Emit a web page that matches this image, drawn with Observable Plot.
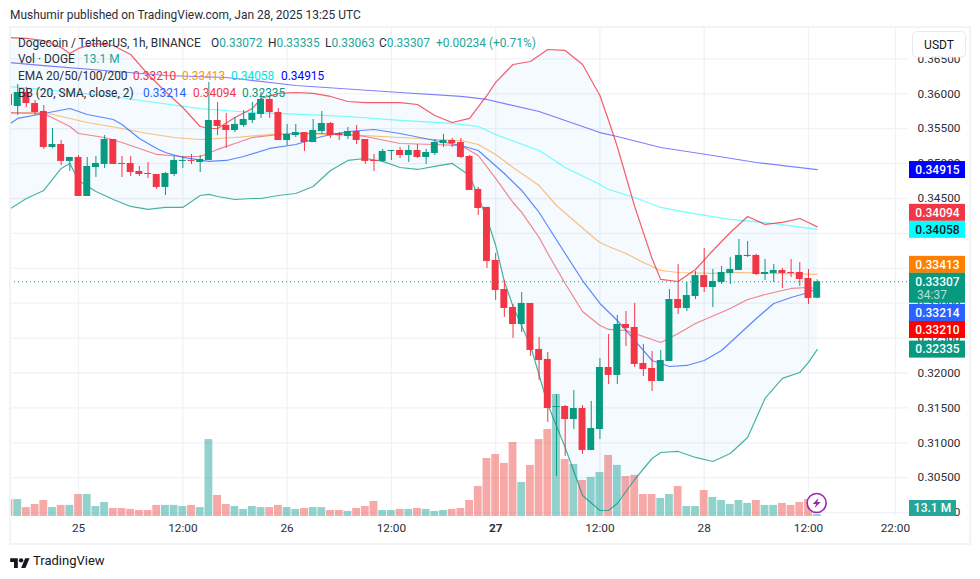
<!DOCTYPE html>
<html><head><meta charset="utf-8">
<script src="https://cdn.jsdelivr.net/npm/d3@7"></script>
<script src="https://cdn.jsdelivr.net/npm/@observablehq/plot@0.6"></script>
<style>
html,body{margin:0;padding:0;background:#fff;width:980px;height:579px;overflow:hidden;font-family:Roboto,sans-serif;color:#131722}
#title{height:26px;box-sizing:border-box;padding:7px 0 0 10px;font-size:11.95px;line-height:16px;white-space:pre;color:#2a2e39}
#wrap{position:relative;width:980px;height:520px}
#wrap svg{position:absolute;left:0;top:0;overflow:visible}
.leg{position:absolute;left:18px;font-size:11.9px;line-height:16px;white-space:pre;color:#2a2e39}
.leg span{position:absolute;top:0}
#foot{position:absolute;left:33px;top:552px;font-size:13px;line-height:18px;color:#131722}
#logo{position:absolute;left:10px;top:556px}
</style></head><body>
<div id="title">Mushumir published on TradingView.com, Jan 28, 2025 13:25 UTC</div>
<div id="wrap">
<div id="chart"></div>
<div class="leg" style="top:9px">Dogecoin / TetherUS, 1h, BINANCE<span style="left:193px">O<b style="font-weight:400;color:#26a69a">0.33072</b></span><span style="left:250px">H<b style="font-weight:400;color:#26a69a">0.33335</b></span><span style="left:307px">L<b style="font-weight:400;color:#26a69a">0.33063</b></span><span style="left:361px">C<b style="font-weight:400;color:#26a69a">0.33307</b></span><span style="left:418px;color:#26a69a">+0.00234 (+0.71%)</span></div>
<div class="leg" style="top:25px">Vol · DOGE<span style="left:65px;color:#26a69a">13.1 M</span></div>
<div class="leg" style="top:42px">EMA 20/50/100/200<span style="left:115px;color:#f23645">0.33210</span><span style="left:164px;color:#ff9800">0.33413</span><span style="left:213px;color:#00e5e5">0.34058</span><span style="left:263px;color:#0000ff">0.34915</span></div>
<div class="leg" style="top:59px">BB (20, SMA, close, 2)<span style="left:125px;color:#2962ff">0.33214</span><span style="left:175px;color:#f23645">0.34094</span><span style="left:224px;color:#089981">0.32335</span></div>
</div>
<svg id="logo" width="20" height="12" viewBox="0 0 36 22"><path fill="#131722" d="M14 22H7V11H0V4h14v18zM28 22h-8l7.5-18h8L28 22z"/><circle fill="#131722" cx="20" cy="8" r="4"/></svg>
<div id="foot">TradingView</div>
<script>
// Candles, one per hour; hour 0 is 25 Jan 00:00
const firstHour = -8;
const open = [.35991,.35818,.36019,.35861,.35747,.35231,.35274,.35031,.35088,.34529,.34944,.34988,.35345,.35002,.35002,.34887,.34858,.34844,.34658,.34844,.35031,.35045,.35016,.35045,.35618,.35546,.35474,.35546,.35618,.35704,.35919,.35732,.35331,.35402,.35445,.35302,.35460,.35575,.35431,.35388,.35460,.35345,.35045,.35031,.35174,.35188,.35116,.35188,.35088,.35145,.35288,.35331,.35302,.35102,.34629,.34372,.33612,.33196,.32939,.32695,.32996,.32337,.32194,.31506,.31520,.31334,.31491,.30890,.31190,.32079,.31965,.32695,.32652,.32136,.32065,.31878,.32165,.33053,.32924,.33096,.33396,.33225,.33297,.33426,.33469,.33669,.33684,.33411,.33426,.33469,.33440,.33440,.33354,.33072];
const high = [.36048,.36134,.36091,.35904,.35832,.35503,.35331,.35088,.35116,.35088,.35102,.35402,.35345,.35102,.35102,.34959,.35016,.34844,.34872,.35102,.35102,.35131,.35116,.36163,.35875,.35718,.35661,.35761,.35875,.36019,.35976,.35789,.35561,.35561,.35445,.35632,.35747,.35589,.35445,.35517,.35546,.35345,.35131,.35203,.35188,.35231,.35259,.35274,.35203,.35345,.35417,.35360,.35360,.35116,.34658,.34372,.33712,.33325,.32982,.33153,.32996,.32509,.32294,.31692,.31534,.31749,.31534,.31592,.32208,.32552,.32824,.32881,.32996,.32409,.32308,.32323,.33196,.33554,.33297,.33455,.33784,.33483,.33526,.33655,.33913,.33884,.33698,.33626,.33554,.33497,.33626,.33583,.33483,.33335];
const low = [.35789,.35689,.35804,.35689,.35203,.35217,.34973,.34887,.34529,.34529,.34801,.34930,.34988,.34801,.34815,.34815,.34787,.34629,.34543,.34815,.34930,.34988,.34872,.35045,.35402,.35217,.35445,.35517,.35575,.35647,.35647,.35331,.35259,.35374,.35174,.35302,.35417,.35360,.35331,.35345,.35274,.34988,.34887,.35016,.35045,.35073,.35016,.35073,.34988,.35116,.35231,.35231,.35073,.34615,.34256,.33497,.33039,.32795,.32495,.32580,.32237,.31893,.31291,.30517,.30804,.31190,.30833,.30890,.31047,.31836,.31836,.32380,.32079,.31950,.31735,.31878,.32165,.32838,.32881,.33053,.33153,.32939,.33268,.33268,.33469,.33655,.33396,.33325,.33297,.33211,.33368,.33239,.32982,.33063];
const close = [.35832,.36019,.35861,.35732,.35231,.35274,.35031,.35088,.34529,.34959,.35002,.35345,.34988,.34988,.34872,.34844,.34844,.34658,.34858,.35045,.35045,.35031,.35059,.35618,.35532,.35474,.35561,.35632,.35718,.35919,.35732,.35331,.35417,.35445,.35302,.35474,.35575,.35402,.35402,.35460,.35331,.35031,.35031,.35174,.35188,.35116,.35188,.35088,.35159,.35302,.35331,.35288,.35088,.34615,.34357,.33598,.33182,.32924,.32695,.32996,.32323,.32179,.31491,.31520,.31334,.31491,.30890,.31205,.32079,.31965,.32695,.32638,.32122,.32050,.31878,.32179,.33053,.32924,.33110,.33396,.33225,.33311,.33440,.33483,.33684,.33684,.33411,.33440,.33469,.33426,.33426,.33340,.33067,.33307];
// Volume in millions
const volume = [110,110,58,78,104,58,72,72,143,143,65,91,52,52,46,39,39,72,72,72,65,72,58,500,137,78,65,46,65,58,58,72,58,46,52,58,58,39,39,33,52,65,98,39,39,46,46,52,46,33,39,46,52,104,195,377,403,345,481,221,332,500,566,793,371,338,234,254,286,397,332,260,267,143,143,117,143,195,65,65,169,124,104,78,104,85,104,72,72,85,72,91,111,13.1];

// Bollinger band
const bandHours = [-8,-6,-4,-2,-1,0,2,4,6,8,10,12,14,15,16,18,20,21,23,25,27,29,31,33,35,37,39,41,43,45,47,48,49,50,52,54,56,58,60,61,62,64,66,67,69,71,73,75,77,79,81,83,84,85];
const bandUpper = [.36807,.36793,.36764,.36664,.36578,.36650,.36721,.36692,.36563,.36277,.36033,.35804,.35532,.35503,.35503,.35661,.35789,.35933,.36005,.36019,.36005,.35962,.35890,.35875,.35875,.35875,.35847,.35689,.35589,.35647,.35976,.36163,.36291,.36420,.36463,.36635,.36621,.36420,.35976,.35618,.35245,.34386,.33640,.33340,.33311,.33483,.33755,.34013,.34243,.34128,.34157,.34214,.34157,.34094];
const bandLower = [.34343,.34500,.34615,.34930,.35002,.34758,.34601,.34486,.34386,.34343,.34372,.34372,.34543,.34558,.34529,.34486,.34500,.34500,.34543,.34572,.34672,.34901,.35045,.35073,.35031,.34944,.34916,.34959,.35002,.34830,.34214,.33827,.33311,.32953,.32394,.31549,.30933,.30245,.30030,.30030,.30130,.30474,.30775,.30861,.30876,.30790,.30732,.30847,.31076,.31635,.31922,.32007,.32151,.32335];
const basisHours = [-8,-7,-4,-1,1,4,5,7,9,10,12,15,17,19,22,25,28,31,34,37,41,44,46,49,51,53,56,58,60,62,64,66,68,70,72,74,76,78,80,82,84,85];
const basisValues = [.35561,.35647,.35718,.35789,.35704,.35632,.35561,.35360,.35217,.35159,.35088,.35031,.35045,.35102,.35217,.35274,.35388,.35460,.35489,.35431,.35331,.35259,.35188,.34858,.34615,.34300,.33712,.33325,.32996,.32752,.32466,.32179,.32093,.32108,.32179,.32323,.32552,.32781,.32996,.33082,.33153,.33214];

// Moving averages
const ema20Hours = [-8,-4,-1,0,3,5,7,9,12,14,16,18,20,23,25,30,33,37,41,44,46,48,50,51,53,54,56,58,60,61,63,65,67,69,71,75,77,79,82,84,85];
const ema20Values = [.35732,.35718,.35532,.35431,.35374,.35302,.35217,.35131,.35102,.35102,.35203,.35288,.35374,.35417,.35431,.35431,.35388,.35288,.35274,.35259,.35116,.34787,.34443,.34300,.33941,.33712,.33282,.32881,.32681,.32624,.32609,.32523,.32437,.32566,.32709,.32924,.33053,.33125,.33211,.33225,.33210];
const ema50Hours = [-8,-4,-3,1,5,8,11,14,18,22,25,33,37,41,44,46,48,50,53,55,57,59,60,61,63,65,67,69,73,76,80,85];
const ema50Values = [.35718,.35732,.35704,.35589,.35503,.35431,.35374,.35345,.35374,.35417,.35431,.35402,.35374,.35345,.35331,.35274,.35131,.34944,.34686,.34400,.34185,.33971,.33870,.33813,.33712,.33583,.33469,.33440,.33426,.33440,.33426,.33413];
const ema100Hours = [-8,-4,3,8,14,20,25,31,37,43,46,48,53,56,60,61,64,67,70,75,80,85];
const ema100Values = [.36105,.36062,.35976,.35890,.35789,.35732,.35710,.35675,.35618,.35575,.35532,.35417,.35188,.34944,.34701,.34629,.34515,.34372,.34300,.34200,.34142,.34058];
const ema200Hours = [-8,-4,3,10,17,25,37,44,47,53,60,62,67,73,78,85];
const ema200Values = [.36448,.36405,.36334,.36262,.36234,.36119,.36019,.35962,.35919,.35747,.35445,.35388,.35231,.35116,.35016,.34915];

// Axis ticks
const priceTicks = [.30,.305,.31,.315,.32,.325,.33,.335,.34,.345,.35,.355,.36,.365];
const timeTicks = [0,12,24,36,48,60,72,84,94];
const timeLabels = ["25","12:00","26","12:00","27","12:00","28","12:00","22:00"];

// Price tags on the right
const tagValues = [.34915,.34094,.34058,.33413,.33307,.33214,.33210,.32335];
const tagFills = ["#0000ff","#f23645","#00ffff","#ff7f00","#089981","#2962ff","#ff0000","#089981"];
const tagInk = ["#fff","#fff","#131722","#fff","#fff","#fff","#fff","#fff"];
const tagShift = [0.5,-14,0.5,-9.5,0,24.7,41.4,0];
const lastPrice = .33307, countdown = "34:37", volumeLabel = "13.1 M";

const candles = open.map((o,i)=>({h:firstHour+i,o,hi:high[i],lo:low[i],c:close[i],v:volume[i],up:close[i]>=o}));
const band = bandHours.map((h,i)=>({h,u:bandUpper[i],l:bandLower[i]}));
const series = (hs,vs)=>hs.map((h,i)=>({h,v:vs[i]}));

// Volume sits at the bottom of the pane, on its own scale mapped into the price range
const volBase = .29944, volPerM = 1/(6.5*6980);
const volY = v => volBase + v*volPerM;

const UP="#089981", DOWN="#f23645";
const ln = (hs,vs,stroke,o,w=1.2)=>Plot.line(series(hs,vs),{x:"h",y:"v",stroke,strokeOpacity:o,strokeWidth:w,curve:"linear",clip:true});

const plot = Plot.plot({
  width:980,height:520,
  marginLeft:10,marginRight:72,marginTop:1,marginBottom:30,
  style:{fontFamily:'Roboto,sans-serif',background:"transparent",overflow:"visible"},
  x:{type:"linear",domain:[-7.83,95.51],axis:null},
  y:{type:"linear",domain:[.29944,.36950],axis:null},
  marks:[
    Plot.ruleY(priceTicks,{stroke:"#f0f2f6",strokeWidth:1.3}),
    Plot.ruleX(timeTicks,{stroke:"#f0f2f6",strokeWidth:1.3}),
    Plot.rect(candles,{x1:d=>d.h-.45,x2:d=>d.h+.45,y1:volBase,y2:d=>volY(d.v),fill:d=>d.up?"#26a69a":"#ef5350",fillOpacity:.5,clip:true}),
    Plot.areaY(band,{x:"h",y1:"l",y2:"u",fill:"#2196f3",fillOpacity:.05,curve:"linear",clip:true}),
    ln(ema200Hours,ema200Values,"#0000ff",.5),
    ln(ema100Hours,ema100Values,"#00ffff",.55),
    ln(ema50Hours,ema50Values,"#ff8800",.5),
    ln(ema20Hours,ema20Values,"#f23645",.6),
    ln(basisHours,basisValues,"#2962ff",.75),
    ln(bandHours,bandUpper,"#f23645",.8),
    ln(bandHours,bandLower,"#089981",.75),
    Plot.ruleX(candles,{x:"h",y1:"lo",y2:"hi",stroke:d=>d.up?UP:DOWN,strokeWidth:1,clip:true}),
    Plot.rect(candles,{x1:d=>d.h-.4,x2:d=>d.h+.4,y1:"o",y2:"c",fill:d=>d.up?UP:DOWN,clip:true}),
    Plot.ruleY([lastPrice],{stroke:UP,strokeDasharray:"1 3",strokeWidth:1}),
    Plot.axisY({anchor:"right",ticks:priceTicks,tickFormat:d3.format(".5f"),tickSize:0,tickPadding:9,label:null,fontSize:11.8,fill:"#2a2e39"}),
    Plot.axisX({anchor:"bottom",ticks:timeTicks.filter(t=>t!==48),tickFormat:t=>timeLabels[timeTicks.indexOf(t)],tickSize:0,tickPadding:7,label:null,fontSize:11.8,fill:"#2a2e39"}),
    Plot.axisX({anchor:"bottom",ticks:[48],tickFormat:t=>timeLabels[timeTicks.indexOf(t)],tickSize:0,tickPadding:7,label:null,fontSize:11.8,fontWeight:700,fill:"#2a2e39"}),
    function(index,{x,y}){
      const g=d3.create("svg:g");
      // hide the part of the time labels under the price scale
      g.append("rect").attr("x",908).attr("y",517).attr("width",60).attr("height",26).attr("fill","#fff");
      // outer frame
      g.append("rect").attr("x",10).attr("y",1).attr("width",960).attr("height",517).attr("fill","none").attr("stroke","#f2f3f5").attr("stroke-width",2);
      // USDT button
      g.append("rect").attr("x",912.5).attr("y",5.5).attr("width",53).attr("height",25.5).attr("rx",4).attr("fill","#fff").attr("stroke","#e8eaef");
      g.append("text").attr("x",939).attr("y",23).attr("text-anchor","middle").attr("font-size",12).attr("fill","#131722").text("USDT");
      // price tags
      tagValues.forEach((v,i)=>{
        const cy=y(v)+tagShift[i], two=v===lastPrice;
        g.append("rect").attr("x",909).attr("y",cy-8.5).attr("width",56).attr("height",two?30:17).attr("fill",tagFills[i]);
        g.append("text").attr("x",937.5).attr("y",cy+4.3).attr("text-anchor","middle").attr("font-size",12).attr("font-weight",500).attr("fill",tagInk[i]).text(d3.format(".5f")(v));
        if(two) g.append("text").attr("x",937).attr("y",cy+18).attr("text-anchor","start").attr("dx",-20).attr("font-size",12).attr("fill","#ffffff").attr("fill-opacity",.7).text(countdown);
      });
      // volume tag
      g.append("rect").attr("x",909).attr("y",y(volBase)-16).attr("width",47).attr("height",16).attr("fill","#26a69a");
      g.append("text").attr("x",932.5).attr("y",y(volBase)-4).attr("text-anchor","middle").attr("font-size",12).attr("font-weight",500).attr("fill","#fff").text(volumeLabel);
      // lightning badge at the last bar
      const bx=x(85), by=y(volBase)-13;
      g.append("circle").attr("cx",bx).attr("cy",by).attr("r",9.5).attr("fill","#fff").attr("stroke","#9c27b0").attr("stroke-width",1.6);
      g.append("path").attr("transform",`translate(${bx},${by})`).attr("d","M1.8-5L-4 1H-.6L-2 5 4-1H.6z").attr("fill","#9c27b0");
      return g.node();
    }
  ]
});
document.getElementById("chart").append(plot);
</script>
</body></html>
